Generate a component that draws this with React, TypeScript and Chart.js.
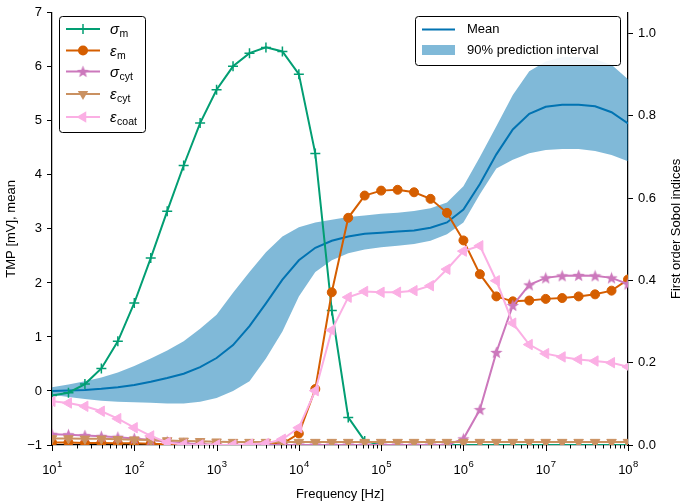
import React, { useEffect, useRef } from 'react';
import { Chart, registerables } from 'chart.js';

Chart.register(...registerables);

// Evaluation frequencies [Hz] (5 per decade, 10^1 .. 10^8)
const FREQ = [
  10, 15.85, 25.12, 39.81, 63.1,
  100, 158.5, 251.2, 398.1, 631,
  1000, 1585, 2512, 3981, 6310,
  1e4, 1.585e4, 2.512e4, 3.981e4, 6.31e4,
  1e5, 1.585e5, 2.512e5, 3.981e5, 6.31e5,
  1e6, 1.585e6, 2.512e6, 3.981e6, 6.31e6,
  1e7, 1.585e7, 2.512e7, 3.981e7, 6.31e7,
  1e8,
];

// TMP [mV] (left axis)
const MEAN = [0.0, 0.01, 0.02, 0.04, 0.07, 0.11, 0.17, 0.24, 0.32, 0.44, 0.61, 0.85, 1.2, 1.62, 2.06, 2.42, 2.65, 2.78, 2.86, 2.91, 2.93, 2.95, 2.97, 3.02, 3.12, 3.36, 3.83, 4.38, 4.84, 5.13, 5.26, 5.3, 5.3, 5.27, 5.16, 4.95];
const UPPER = [0.07, 0.12, 0.18, 0.25, 0.34, 0.46, 0.6, 0.75, 0.92, 1.15, 1.41, 1.82, 2.2, 2.57, 2.86, 3.03, 3.12, 3.17, 3.22, 3.25, 3.28, 3.3, 3.33, 3.38, 3.49, 3.79, 4.33, 4.9, 5.48, 5.92, 6.1, 6.18, 6.18, 6.14, 6.04, 5.77];
const LOWER = [-0.07, -0.11, -0.15, -0.18, -0.2, -0.21, -0.22, -0.23, -0.23, -0.2, -0.13, 0.0, 0.18, 0.6, 1.1, 1.75, 2.2, 2.42, 2.55, 2.62, 2.66, 2.69, 2.72, 2.78, 2.9, 3.12, 3.64, 4.12, 4.28, 4.4, 4.46, 4.48, 4.48, 4.44, 4.37, 4.25];

// First order Sobol indices (right axis)
const SIGMA_M = [0.12, 0.127, 0.148, 0.186, 0.252, 0.345, 0.454, 0.568, 0.679, 0.782, 0.863, 0.92, 0.952, 0.966, 0.956, 0.901, 0.708, 0.327, 0.067, 0.01, 0, 0, 0, 0, 0, 0, 0, 0, 0, 0, 0, 0, 0, 0, 0, 0];
const EPS_M = [0.006, 0.006, 0.005, 0.005, 0.004, 0.004, 0.003, 0.002, 0.001, 0.001, 0, 0, 0, 0.001, 0.003, 0.028, 0.136, 0.371, 0.552, 0.606, 0.618, 0.62, 0.614, 0.598, 0.564, 0.497, 0.415, 0.361, 0.349, 0.351, 0.355, 0.357, 0.361, 0.366, 0.375, 0.402];
const SIGMA_CYT = [0.026, 0.025, 0.023, 0.021, 0.019, 0.016, 0.012, 0.008, 0.004, 0.002, 0, 0, 0, 0, 0, 0, 0, 0, 0, 0, 0, 0, 0, 0, 0, 0.015, 0.086, 0.225, 0.339, 0.389, 0.406, 0.411, 0.412, 0.411, 0.406, 0.391];
const EPS_CYT = [0.016, 0.016, 0.015, 0.015, 0.014, 0.013, 0.012, 0.011, 0.01, 0.009, 0.008, 0.007, 0.007, 0.007, 0.007, 0.007, 0.007, 0.007, 0.007, 0.007, 0.007, 0.007, 0.007, 0.007, 0.007, 0.007, 0.007, 0.007, 0.007, 0.007, 0.007, 0.007, 0.007, 0.007, 0.007, 0.007];
const EPS_COAT = [0.106, 0.102, 0.094, 0.082, 0.064, 0.042, 0.022, 0.006, 0.001, 0, 0, 0, 0.002, 0.004, 0.014, 0.042, 0.132, 0.279, 0.359, 0.373, 0.371, 0.371, 0.375, 0.387, 0.427, 0.471, 0.484, 0.399, 0.296, 0.244, 0.222, 0.214, 0.208, 0.204, 0.2, 0.19];

const X_EXPONENTS = [1, 2, 3, 4, 5, 6, 7, 8];
const LEFT_TICK_STEP = 1;
const RIGHT_TICK_STEP = 0.2;

const SOBOL_LEGEND = [
  { greek: 'σ', sub: 'm', marker: 'plus', color: '#029e73' },
  { greek: 'ε', sub: 'm', marker: 'circle', color: '#d55e00' },
  { greek: 'σ', sub: 'cyt', marker: 'star', color: '#cc78bc' },
  { greek: 'ε', sub: 'cyt', marker: 'down', color: '#ca9161' },
  { greek: 'ε', sub: 'coat', marker: 'left', color: '#fbafe4' },
];
const MEAN_LABEL = 'Mean';
const BAND_LABEL = '90% prediction interval';

const BLUE = '#0173b2';
const BAND = 'rgba(1,115,178,0.5)';
const FONT = '"Liberation Sans", Arial, Helvetica, sans-serif';

function pts(vals: number[]) {
  return vals.map((v, i) => ({ x: FREQ[i], y: v }));
}

function makeStar(color: string, size: number) {
  const c = document.createElement('canvas');
  c.width = size;
  c.height = size;
  const g = c.getContext('2d')!;
  const cx = size / 2, cy = size / 2 + 0.5, R = size / 2, r = R * 0.42;
  g.beginPath();
  for (let i = 0; i < 10; i++) {
    const a = -Math.PI / 2 + (i * Math.PI) / 5;
    const rr = i % 2 ? r : R;
    g.lineTo(cx + rr * Math.cos(a), cy + rr * Math.sin(a));
  }
  g.closePath();
  g.fillStyle = color;
  g.fill();
  return c;
}

function drawMarker(ctx: CanvasRenderingContext2D, kind: string, x: number, y: number, color: string, star: HTMLCanvasElement) {
  ctx.save();
  ctx.fillStyle = color;
  ctx.strokeStyle = color;
  ctx.lineWidth = 1.5;
  if (kind === 'plus') {
    ctx.beginPath();
    ctx.moveTo(x - 5, y); ctx.lineTo(x + 5, y);
    ctx.moveTo(x, y - 5); ctx.lineTo(x, y + 5);
    ctx.stroke();
  } else if (kind === 'circle') {
    ctx.beginPath();
    ctx.arc(x, y, 5, 0, Math.PI * 2);
    ctx.fill();
  } else if (kind === 'star') {
    ctx.drawImage(star, x - star.width / 2, y - star.height / 2);
  } else if (kind === 'down') {
    const r = 6;
    ctx.beginPath();
    ctx.moveTo(x, y + r);
    ctx.lineTo(x - r * 0.866, y - r / 2);
    ctx.lineTo(x + r * 0.866, y - r / 2);
    ctx.closePath();
    ctx.fill();
  } else if (kind === 'left') {
    const r = 6.5;
    ctx.beginPath();
    ctx.moveTo(x - r, y);
    ctx.lineTo(x + r / 2, y - r * 0.866);
    ctx.lineTo(x + r / 2, y + r * 0.866);
    ctx.closePath();
    ctx.fill();
  }
  ctx.restore();
}

function roundRect(ctx: CanvasRenderingContext2D, x: number, y: number, w: number, h: number, r: number) {
  ctx.beginPath();
  ctx.moveTo(x + r, y);
  ctx.lineTo(x + w - r, y);
  ctx.arcTo(x + w, y, x + w, y + r, r);
  ctx.lineTo(x + w, y + h - r);
  ctx.arcTo(x + w, y + h, x + w - r, y + h, r);
  ctx.lineTo(x + r, y + h);
  ctx.arcTo(x, y + h, x, y + h - r, r);
  ctx.lineTo(x, y + r);
  ctx.arcTo(x, y, x + r, y, r);
  ctx.closePath();
}

export default function App() {
  const ref = useRef<HTMLCanvasElement>(null);

  useEffect(() => {
    const canvas = ref.current!;
    const star = makeStar('#cc78bc', 13);

    const overlay = {
      id: 'overlay',
      afterDraw(chart: any) {
        const ctx: CanvasRenderingContext2D = chart.ctx;
        const xs = chart.scales.x;
        const area = chart.chartArea;
        ctx.save();
        // x ticks (major + minor)
        ctx.strokeStyle = '#000';
        ctx.lineWidth = 1;
        for (const d of X_EXPONENTS) {
          for (let m = 1; m <= 9; m++) {
            const v = m * Math.pow(10, d);
            if (v > 1e8 + 1) break;
            const px = Math.round(xs.getPixelForValue(v)) + 0.5;
            const len = m === 1 ? 6 : 3.5;
            ctx.beginPath();
            ctx.moveTo(px, area.bottom);
            ctx.lineTo(px, area.bottom + len);
            ctx.stroke();
          }
        }
        // x tick labels 10^d
        ctx.fillStyle = '#000';
        ctx.textBaseline = 'alphabetic';
        ctx.textAlign = 'left';
        for (const d of X_EXPONENTS) {
          const px = xs.getPixelForValue(Math.pow(10, d));
          ctx.font = `13px ${FONT}`;
          const w1 = ctx.measureText('10').width;
          ctx.font = `9.5px ${FONT}`;
          const w2 = ctx.measureText(String(d)).width;
          const x0 = px - (w1 + w2) / 2;
          ctx.font = `13px ${FONT}`;
          ctx.fillText('10', x0, 474);
          ctx.font = `9.5px ${FONT}`;
          ctx.fillText(String(d), x0 + w1 + 0.5, 467);
        }
        // axis titles
        ctx.font = `13px ${FONT}`;
        ctx.textAlign = 'center';
        ctx.textBaseline = 'middle';
        ctx.fillText('Frequency [Hz]', (area.left + area.right) / 2, 494);
        const midY = (area.top + area.bottom) / 2;
        ctx.save();
        ctx.translate(11, midY);
        ctx.rotate(-Math.PI / 2);
        ctx.fillText('TMP [mV], mean', 0, 0);
        ctx.restore();
        ctx.save();
        ctx.translate(676, midY);
        ctx.rotate(-Math.PI / 2);
        ctx.fillText('First order Sobol indices', 0, 0);
        ctx.restore();

        // left legend (Sobol indices)
        roundRect(ctx, 59.5, 16.5, 86, 116, 3);
        ctx.fillStyle = 'rgba(255,255,255,0.9)';
        ctx.fill();
        ctx.strokeStyle = '#000';
        ctx.lineWidth = 1;
        ctx.stroke();
        const rowsY = [29, 50.5, 71.5, 94, 117];
        SOBOL_LEGEND.forEach((e, i) => {
          const y = rowsY[i];
          ctx.strokeStyle = e.color;
          ctx.lineWidth = 2;
          ctx.beginPath();
          ctx.moveTo(66, y);
          ctx.lineTo(100, y);
          ctx.stroke();
          drawMarker(ctx, e.marker, 83, y, e.color, star);
          ctx.fillStyle = '#000';
          ctx.textAlign = 'left';
          ctx.textBaseline = 'alphabetic';
          ctx.font = `italic 15px ${FONT}`;
          ctx.fillText(e.greek, 110, y + 5);
          const gw = ctx.measureText(e.greek).width;
          ctx.font = `10.5px ${FONT}`;
          ctx.fillText(e.sub, 110 + gw + 0.5, y + 8);
        });

        // right legend (mean / band)
        roundRect(ctx, 415.5, 16.5, 205, 49, 3);
        ctx.fillStyle = 'rgba(255,255,255,0.9)';
        ctx.fill();
        ctx.strokeStyle = '#000';
        ctx.lineWidth = 1;
        ctx.stroke();
        ctx.strokeStyle = BLUE;
        ctx.lineWidth = 2;
        ctx.beginPath();
        ctx.moveTo(422, 29.5);
        ctx.lineTo(455, 29.5);
        ctx.stroke();
        ctx.fillStyle = BAND;
        ctx.fillRect(422, 45, 33, 10);
        ctx.fillStyle = '#000';
        ctx.font = `13px ${FONT}`;
        ctx.textAlign = 'left';
        ctx.textBaseline = 'middle';
        ctx.fillText(MEAN_LABEL, 467, 29.5);
        ctx.fillText(BAND_LABEL, 467, 50.5);
        ctx.restore();
      },
    };

    const sobol = (vals: number[], color: string, extra: any) => ({
      data: pts(vals),
      yAxisID: 'y2',
      borderColor: color,
      backgroundColor: color,
      pointBackgroundColor: color,
      pointBorderColor: color,
      borderWidth: 2,
      pointBorderWidth: 1,
      tension: 0,
      fill: false,
      ...extra,
    });

    const chart = new Chart(canvas, {
      type: 'line',
      data: {
        datasets: [
          sobol(EPS_COAT, '#fbafe4', { label: 'εcoat', pointStyle: 'triangle', rotation: 270, pointRadius: 6 }),
          sobol(EPS_CYT, '#ca9161', { label: 'εcyt', pointStyle: 'triangle', rotation: 180, pointRadius: 5.5 }),
          sobol(SIGMA_CYT, '#cc78bc', { label: 'σcyt', pointStyle: star, pointRadius: 6 }),
          sobol(EPS_M, '#d55e00', { label: 'εm', pointStyle: 'circle', pointRadius: 4.5 }),
          sobol(SIGMA_M, '#029e73', { label: 'σm', pointStyle: 'cross', pointRadius: 5, pointBorderWidth: 1.5 }),
          { label: 'Mean', data: pts(MEAN), yAxisID: 'y', borderColor: BLUE, borderWidth: 2, pointRadius: 0, fill: false, tension: 0 },
          { label: 'upper', data: pts(UPPER), yAxisID: 'y', borderWidth: 0, borderColor: 'rgba(0,0,0,0)', pointRadius: 0, fill: '+1', backgroundColor: BAND, tension: 0 },
          { label: 'lower', data: pts(LOWER), yAxisID: 'y', borderWidth: 0, borderColor: 'rgba(0,0,0,0)', pointRadius: 0, fill: false, tension: 0 },
        ],
      },
      plugins: [overlay],
      options: {
        animation: false,
        responsive: true,
        maintainAspectRatio: false,
        events: [],
        layout: { padding: { top: 9, left: 0, right: 0, bottom: 0 } },
        plugins: {
          legend: { display: false },
          tooltip: { enabled: false },
          filler: { drawTime: 'beforeDatasetsDraw' },
        } as any,
        scales: {
          x: {
            type: 'logarithmic',
            min: 10,
            max: 1e8,
            ticks: { display: false },
            grid: { display: false },
            border: { display: true, color: '#000', width: 1.25 },
            afterFit: (s: any) => { s.height = 58; },
          },
          y: {
            type: 'linear',
            position: 'left',
            min: -1,
            max: 7,
            ticks: {
              stepSize: LEFT_TICK_STEP,
              color: '#000',
              font: { family: FONT, size: 13 },
              padding: 5,
              callback: (v: any) => String(v).replace('-', '\u2212'),
            },
            grid: { display: true, drawOnChartArea: false, tickLength: 5, tickColor: '#000', tickWidth: 1 },
            border: { display: true, color: '#000', width: 1.25 },
            afterFit: (s: any) => { s.width = 52; },
          },
          y2: {
            type: 'linear',
            position: 'right',
            min: 0,
            max: 1.05,
            ticks: {
              stepSize: RIGHT_TICK_STEP,
              color: '#000',
              font: { family: FONT, size: 13 },
              padding: 5,
              callback: (v: any) => Number(v).toFixed(1),
            },
            afterBuildTicks: (s: any) => { s.ticks = s.ticks.filter((t: any) => t.value <= 1.0001); },
            grid: { display: true, drawOnChartArea: false, tickLength: 5, tickColor: '#000', tickWidth: 1 },
            border: { display: true, color: '#000', width: 1.25 },
            afterFit: (s: any) => { s.width = 57; },
          },
        } as any,
      },
    } as any);

    return () => chart.destroy();
  }, []);

  return (
    <div style={{ position: 'fixed', left: 0, top: 0, width: 685, height: 503, background: '#fff' }}>
      <canvas ref={ref} />
    </div>
  );
}
